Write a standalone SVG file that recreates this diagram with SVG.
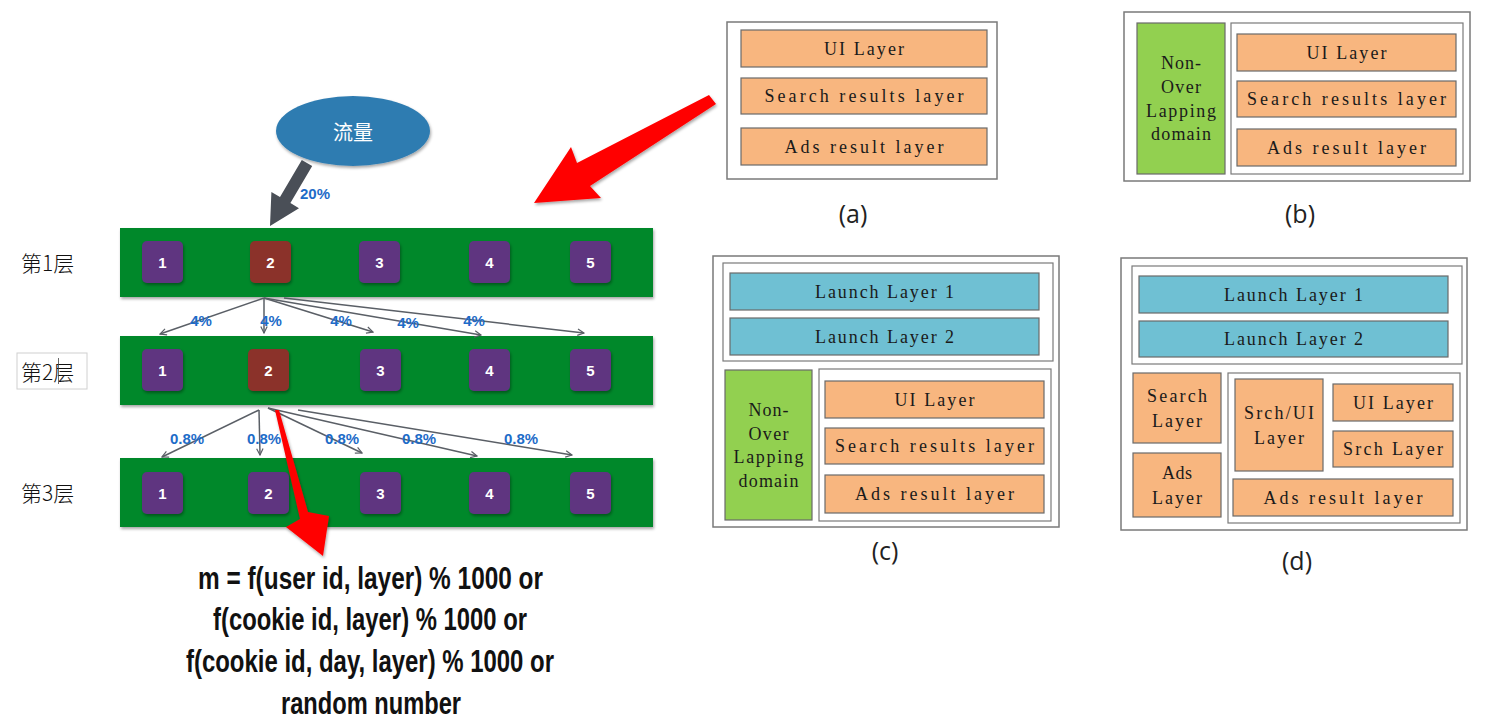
<svg xmlns="http://www.w3.org/2000/svg" width="1490" height="723" viewBox="0 0 1490 723">
<defs>
<style>
.bar{fill:#02882c;}
.sq{fill:#5e3580;}
.sqr{fill:#8b3229;}
.num{font-family:"Liberation Sans",Arial,sans-serif;font-weight:bold;font-size:15px;fill:#fff;text-anchor:middle;dominant-baseline:central;}
.pct{font-family:"Liberation Sans",Arial,sans-serif;font-weight:bold;font-size:15px;fill:#1e6cc8;text-anchor:middle;dominant-baseline:central;}
.cn{font-family:"Noto Sans CJK SC",sans-serif;font-weight:300;font-size:21px;fill:#111;dominant-baseline:central;}
.fl{stroke:#5a5f66;stroke-width:1.5;fill:none;marker-end:url(#chev);}
.frm{fill:#fff;stroke:#7a7a7a;stroke-width:1.5;}
.inr{fill:#fff;stroke:#7a7a7a;stroke-width:1.2;}
.or{fill:#f8b67f;stroke:#6a6a6a;stroke-width:1.2;}
.bl{fill:#6fc0d3;stroke:#6a6a6a;stroke-width:1.2;}
.gr{fill:#92d050;stroke:#6a6a6a;stroke-width:1.2;}
.t{font-family:"Liberation Serif","Times New Roman",serif;font-size:18px;fill:#1a1a1a;text-anchor:middle;dominant-baseline:central;}
.cap{font-family:"Open Sans","Liberation Sans",sans-serif;font-size:25px;fill:#222;text-anchor:middle;dominant-baseline:central;}
.fx{font-family:"Liberation Sans",Arial,sans-serif;font-weight:bold;font-size:32px;fill:#111;dominant-baseline:central;}
</style>
<filter id="sh" x="-20%" y="-20%" width="140%" height="150%">
<feDropShadow dx="1" dy="2" stdDeviation="1.5" flood-color="#000" flood-opacity="0.35"/>
</filter>
<marker id="chev" viewBox="0 0 10 10" refX="9" refY="5" markerWidth="8" markerHeight="8" orient="auto" markerUnits="userSpaceOnUse">
<path d="M1,1 L9,5 L1,9" fill="none" stroke="#5a5f66" stroke-width="1.5"/>
</marker>
</defs>
<rect width="1490" height="723" fill="#fff"/>

<!-- traffic ellipse -->
<g id="traffic">
<ellipse cx="353" cy="131" rx="77" ry="35" fill="#2f7cb1" filter="url(#sh)"/>
<text x="353" y="131" style="font-family:'Noto Sans CJK SC',sans-serif;font-size:20px;fill:#fff;text-anchor:middle;dominant-baseline:central;">流量</text>
</g>

<!-- layer labels -->
<g id="label-l1"><text class="cn" x="21" y="262">第1层</text></g>
<g id="label-l2">
<rect x="17" y="353" width="70" height="36" fill="#fff" stroke="#d0d0d0" stroke-width="1"/>
<text class="cn" x="21" y="371">第2层</text>
<line x1="58.5" y1="358" x2="58.5" y2="384" stroke="#444" stroke-width="0.8"/>
</g>
<g id="label-l3"><text class="cn" x="21" y="492">第3层</text></g>

<!-- layer 1 -->
<g id="layer1">
<rect class="bar" x="120" y="228" width="533" height="69" filter="url(#sh)"/>
<rect class="sq" x="142" y="241" width="41" height="42" rx="5" filter="url(#sh)"/>
<rect class="sqr" x="250" y="241" width="41" height="42" rx="5" filter="url(#sh)"/>
<rect class="sq" x="359" y="241" width="41" height="42" rx="5" filter="url(#sh)"/>
<rect class="sq" x="469" y="241" width="41" height="42" rx="5" filter="url(#sh)"/>
<rect class="sq" x="570" y="241" width="41" height="42" rx="5" filter="url(#sh)"/>
<text class="num" x="162.5" y="262">1</text>
<text class="num" x="270.5" y="262">2</text>
<text class="num" x="379.5" y="262">3</text>
<text class="num" x="489.5" y="262">4</text>
<text class="num" x="590.5" y="262">5</text>
</g>

<!-- layer 2 -->
<g id="layer2">
<rect class="bar" x="120" y="336" width="533" height="69" filter="url(#sh)"/>
<rect class="sq" x="142" y="349" width="41" height="42" rx="5" filter="url(#sh)"/>
<rect class="sqr" x="248" y="349" width="41" height="42" rx="5" filter="url(#sh)"/>
<rect class="sq" x="360" y="349" width="41" height="42" rx="5" filter="url(#sh)"/>
<rect class="sq" x="469" y="349" width="41" height="42" rx="5" filter="url(#sh)"/>
<rect class="sq" x="570" y="349" width="41" height="42" rx="5" filter="url(#sh)"/>
<text class="num" x="162.5" y="370">1</text>
<text class="num" x="268.5" y="370">2</text>
<text class="num" x="380.5" y="370">3</text>
<text class="num" x="489.5" y="370">4</text>
<text class="num" x="590.5" y="370">5</text>
</g>

<!-- layer 3 -->
<g id="layer3">
<rect class="bar" x="120" y="458" width="533" height="69" filter="url(#sh)"/>
<rect class="sq" x="142" y="472" width="41" height="42" rx="5" filter="url(#sh)"/>
<rect class="sq" x="248" y="472" width="41" height="42" rx="5" filter="url(#sh)"/>
<rect class="sq" x="360" y="472" width="41" height="42" rx="5" filter="url(#sh)"/>
<rect class="sq" x="469" y="472" width="41" height="42" rx="5" filter="url(#sh)"/>
<rect class="sq" x="570" y="472" width="41" height="42" rx="5" filter="url(#sh)"/>
<text class="num" x="162.5" y="493">1</text>
<text class="num" x="268.5" y="493">2</text>
<text class="num" x="380.5" y="493">3</text>
<text class="num" x="489.5" y="493">4</text>
<text class="num" x="590.5" y="493">5</text>
</g>

<!-- formula -->
<g id="formula">
<text class="fx" x="198" y="578" textLength="345" lengthAdjust="spacingAndGlyphs">m = f(user id, layer) % 1000 or</text>
<text class="fx" x="213" y="619" textLength="314" lengthAdjust="spacingAndGlyphs">f(cookie id, layer) % 1000 or</text>
<text class="fx" x="186" y="661" textLength="368" lengthAdjust="spacingAndGlyphs">f(cookie id, day, layer) % 1000 or</text>
<text class="fx" x="281" y="703" textLength="180" lengthAdjust="spacingAndGlyphs">random number</text>
</g>

<!-- connectors -->
<g id="connectors">
<polygon points="301.8,160 312.2,166 290.4,203.1 299,208.2 270,226 271.4,192 280,197.1" fill="#4a4f57"/>
<text class="pct" x="315" y="193">20%</text>

<line class="fl" x1="264" y1="298" x2="160" y2="334"/>
<line class="fl" x1="264" y1="298" x2="264" y2="333"/>
<line class="fl" x1="264" y1="298" x2="373" y2="332"/>
<line class="fl" x1="264" y1="298" x2="481" y2="335"/>
<line class="fl" x1="284" y1="298" x2="584" y2="333"/>
<text class="pct" x="201" y="320">4%</text>
<text class="pct" x="271" y="320">4%</text>
<text class="pct" x="341" y="320">4%</text>
<text class="pct" x="408" y="322">4%</text>
<text class="pct" x="474" y="320">4%</text>

<line class="fl" x1="259" y1="410" x2="162" y2="457"/>
<line class="fl" x1="259" y1="410" x2="260" y2="455"/>
<line class="fl" x1="268" y1="408" x2="362" y2="453"/>
<line class="fl" x1="268" y1="408" x2="477" y2="456"/>
<line class="fl" x1="298" y1="410" x2="572" y2="455"/>
<text class="pct" x="187" y="438">0.8%</text>
<text class="pct" x="264" y="438">0.8%</text>
<text class="pct" x="342" y="438">0.8%</text>
<text class="pct" x="419" y="438">0.8%</text>
<text class="pct" x="521" y="438">0.8%</text>

<polygon points="709,95 716,104 590,186 601,198 534,203 571,147 577,163" fill="#ff0000" filter="url(#sh)"/>
<polygon points="275,410 279,410 308,512 329,516 323,556 286,527 300,519" fill="#ff0000" filter="url(#sh)"/>
</g>

<!-- panel a -->
<g id="panel-a">
<rect class="frm" x="727" y="22" width="270" height="157"/>
<rect class="or" x="741" y="30" width="246" height="37"/>
<rect class="or" x="741" y="78" width="246" height="36"/>
<rect class="or" x="741" y="128" width="246" height="37"/>
<text class="t" x="864" y="48.5" textLength="80" lengthAdjust="spacing">UI Layer</text>
<text class="t" x="864" y="96" textLength="199" lengthAdjust="spacing">Search results layer</text>
<text class="t" x="864" y="146.5" textLength="159" lengthAdjust="spacing">Ads result layer</text>
<text class="cap" x="853" y="213">(a)</text>
</g>

<!-- panel b -->
<g id="panel-b">
<rect class="frm" x="1124" y="12" width="346" height="169"/>
<rect class="gr" x="1137" y="23" width="88" height="151"/>
<rect class="inr" x="1231" y="23" width="232" height="151"/>
<rect class="or" x="1237" y="34" width="219" height="37"/>
<rect class="or" x="1237" y="81" width="219" height="36"/>
<rect class="or" x="1237" y="129" width="219" height="37"/>
<text class="t" x="1181" y="63" textLength="40" lengthAdjust="spacing">Non-</text>
<text class="t" x="1181" y="87" textLength="40" lengthAdjust="spacing">Over</text>
<text class="t" x="1181" y="111" textLength="70" lengthAdjust="spacing">Lapping</text>
<text class="t" x="1181" y="134" textLength="60" lengthAdjust="spacing">domain</text>
<text class="t" x="1346.5" y="52.5" textLength="80" lengthAdjust="spacing">UI Layer</text>
<text class="t" x="1346.5" y="99" textLength="199" lengthAdjust="spacing">Search results layer</text>
<text class="t" x="1346.5" y="147.5" textLength="159" lengthAdjust="spacing">Ads result layer</text>
<text class="cap" x="1300" y="213">(b)</text>
</g>

<!-- panel c -->
<g id="panel-c">
<rect class="frm" x="713" y="256" width="346" height="271"/>
<rect class="inr" x="723" y="263" width="330" height="98"/>
<rect class="bl" x="730" y="273" width="309" height="37"/>
<rect class="bl" x="730" y="318" width="309" height="37"/>
<rect class="gr" x="725" y="370" width="87" height="150"/>
<rect class="inr" x="819" y="369" width="232" height="152"/>
<rect class="or" x="825" y="381" width="219" height="37"/>
<rect class="or" x="825" y="428" width="219" height="36"/>
<rect class="or" x="825" y="475" width="219" height="38"/>
<text class="t" x="884.5" y="291.5" textLength="139" lengthAdjust="spacing">Launch Layer 1</text>
<text class="t" x="884.5" y="336.5" textLength="139" lengthAdjust="spacing">Launch Layer 2</text>
<text class="t" x="768.5" y="410" textLength="40" lengthAdjust="spacing">Non-</text>
<text class="t" x="768.5" y="434" textLength="40" lengthAdjust="spacing">Over</text>
<text class="t" x="768.5" y="457" textLength="70" lengthAdjust="spacing">Lapping</text>
<text class="t" x="768.5" y="481" textLength="60" lengthAdjust="spacing">domain</text>
<text class="t" x="934.5" y="399.5" textLength="80" lengthAdjust="spacing">UI Layer</text>
<text class="t" x="934.5" y="446" textLength="199" lengthAdjust="spacing">Search results layer</text>
<text class="t" x="934.5" y="494" textLength="159" lengthAdjust="spacing">Ads result layer</text>
<text class="cap" x="885" y="550">(c)</text>
</g>

<!-- panel d -->
<g id="panel-d">
<rect class="frm" x="1121" y="258" width="346" height="272"/>
<rect class="inr" x="1132" y="266" width="330" height="98"/>
<rect class="bl" x="1139" y="276" width="309" height="37"/>
<rect class="bl" x="1139" y="321" width="309" height="36"/>
<rect class="or" x="1133" y="373" width="88" height="70"/>
<rect class="or" x="1133" y="453" width="88" height="64"/>
<rect class="inr" x="1228" y="373" width="232" height="150"/>
<rect class="or" x="1235" y="379" width="88" height="92"/>
<rect class="or" x="1333" y="384" width="120" height="37"/>
<rect class="or" x="1333" y="431" width="120" height="36"/>
<rect class="or" x="1233" y="479" width="220" height="37"/>
<text class="t" x="1293.5" y="294.5" textLength="139" lengthAdjust="spacing">Launch Layer 1</text>
<text class="t" x="1293.5" y="339" textLength="139" lengthAdjust="spacing">Launch Layer 2</text>
<text class="t" x="1177" y="396" textLength="60" lengthAdjust="spacing">Search</text>
<text class="t" x="1177" y="421" textLength="50" lengthAdjust="spacing">Layer</text>
<text class="t" x="1177" y="473" textLength="30" lengthAdjust="spacing">Ads</text>
<text class="t" x="1177" y="498" textLength="50" lengthAdjust="spacing">Layer</text>
<text class="t" x="1279" y="413" textLength="70" lengthAdjust="spacing">Srch/UI</text>
<text class="t" x="1279" y="438" textLength="50" lengthAdjust="spacing">Layer</text>
<text class="t" x="1393" y="402.5" textLength="80" lengthAdjust="spacing">UI Layer</text>
<text class="t" x="1393" y="449" textLength="100" lengthAdjust="spacing">Srch Layer</text>
<text class="t" x="1343" y="497.5" textLength="159" lengthAdjust="spacing">Ads result layer</text>
<text class="cap" x="1297" y="560">(d)</text>
</g>
</svg>
